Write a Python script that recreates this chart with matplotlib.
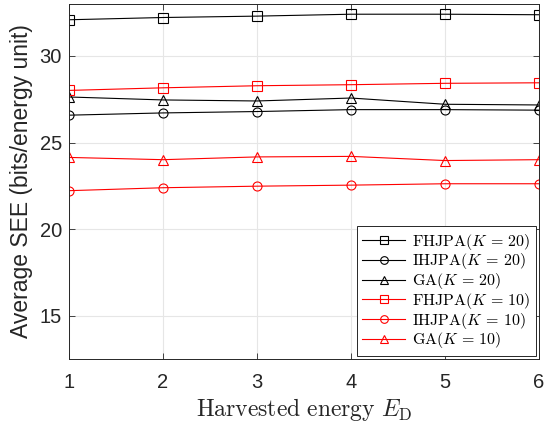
import matplotlib
matplotlib.use("Agg")
import matplotlib.pyplot as plt

# Harvested energy E_D
energy = [1, 2, 3, 4, 5, 6]

# Average SEE (bits/energy unit)
fhjpa_k20 = [32.09, 32.22, 32.30, 32.41, 32.41, 32.38]
ihjpa_k20 = [26.58, 26.71, 26.79, 26.90, 26.90, 26.87]
ga_k20 = [27.63, 27.46, 27.40, 27.57, 27.21, 27.17]
fhjpa_k10 = [28.01, 28.16, 28.28, 28.34, 28.42, 28.45]
ihjpa_k10 = [22.22, 22.39, 22.48, 22.54, 22.62, 22.62]
ga_k10 = [24.14, 24.01, 24.17, 24.20, 23.96, 24.01]

series = [
    (fhjpa_k20, "k", "s", r"$\mathrm{FHJPA}(K\,=\,20)$"),
    (ihjpa_k20, "k", "o", r"$\mathrm{IHJPA}(K\,=\,20)$"),
    (ga_k20, "k", "^", r"$\mathrm{GA}(K\,=\,20)$"),
    (fhjpa_k10, "r", "s", r"$\mathrm{FHJPA}(K\,=\,10)$"),
    (ihjpa_k10, "r", "o", r"$\mathrm{IHJPA}(K\,=\,10)$"),
    (ga_k10, "r", "^", r"$\mathrm{GA}(K\,=\,10)$"),
]

AXIS = "#262626"
GRID = "#e6e6e6"

plt.rcParams["mathtext.fontset"] = "cm"
plt.rcParams["font.family"] = ["Liberation Sans", "DejaVu Sans"]

fig = plt.figure(figsize=(5.46, 4.23), dpi=100)
ax = fig.add_axes([69 / 546, 1 - 359 / 423, 470 / 546, 355 / 423])

for vals, color, marker, label in series:
    ms = 7 if marker == "^" else 6.5
    ax.plot(energy, vals, color=color, marker=marker, markersize=ms,
            markerfacecolor="none", markeredgecolor=color, linewidth=0.8,
            markeredgewidth=0.8, label=label)

ax.set_xlim(1, 6)
ax.set_ylim(12.5, 33)
ax.set_xticks(energy)
ax.set_yticks([15, 20, 25, 30])

ax.grid(True, color=GRID, linewidth=0.8)
ax.set_axisbelow(True)
ax.tick_params(direction="in", top=True, right=True, length=4, width=0.6,
               colors=AXIS, labelsize=14.5)
ax.tick_params(axis="x", pad=10)
ax.tick_params(axis="y", pad=5)
for s in ax.spines.values():
    s.set_color(AXIS)
    s.set_linewidth(0.7)

ax.set_xlabel(r"$\mathrm{Harvested\ energy}\ E_\mathrm{D}$", fontsize=17, color=AXIS, labelpad=3)
ax.set_ylabel("Average SEE (bits/energy unit)", fontsize=16.5, color=AXIS, labelpad=5)

leg = ax.legend(loc="lower right", fontsize=11.5, frameon=True, fancybox=False,
                edgecolor=AXIS, framealpha=1, handlelength=2.7, labelspacing=-0.02,
                borderpad=0.35, handletextpad=0.4, borderaxespad=0.2, markerscale=0.85)
leg.get_frame().set_linewidth(0.7)

fig.savefig("out.png", dpi=100)
